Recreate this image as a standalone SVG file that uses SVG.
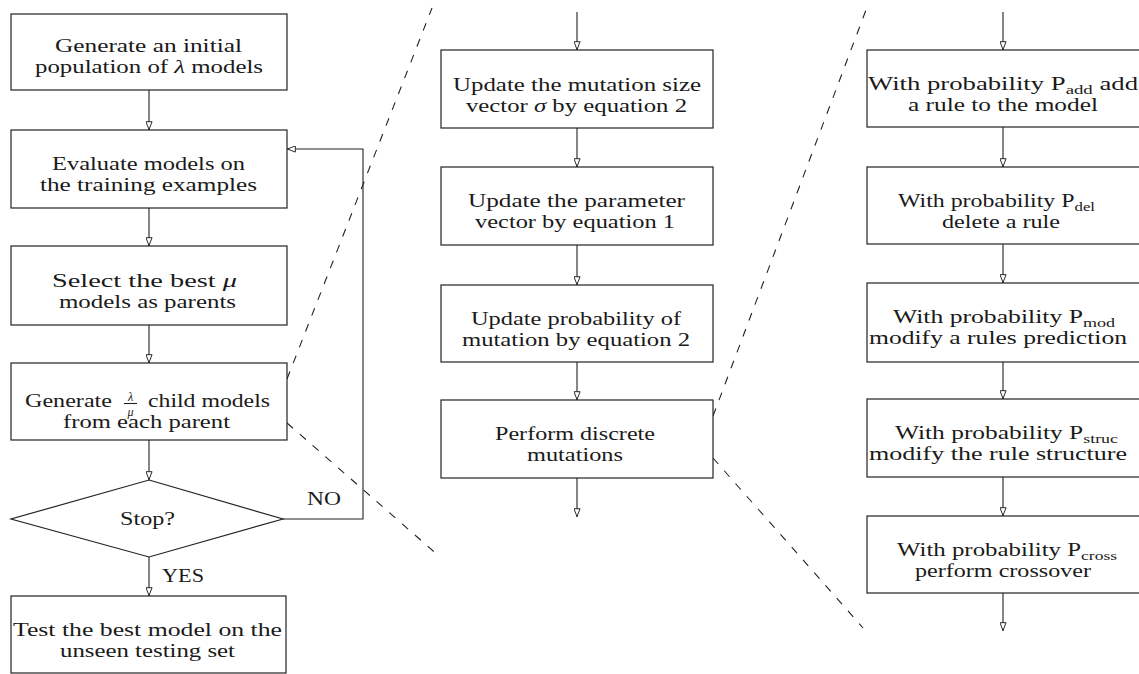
<svg xmlns="http://www.w3.org/2000/svg" width="1139" height="674" viewBox="0 0 1139 674">
<defs>
<style>
.box{fill:#fff;stroke:#222;stroke-width:1.2}
.ln{fill:none;stroke:#222;stroke-width:1.1}
.dash{fill:none;stroke:#222;stroke-width:1.1;stroke-dasharray:8 9}
.t{font-family:"Liberation Serif","Times New Roman",serif;font-size:18.5px;fill:#1a1a1a}
.m{font-style:italic}
.sub{font-size:13px}
.frac{font-family:"Liberation Serif","Times New Roman",serif;font-size:12px;font-style:italic;fill:#1a1a1a}
</style>
<marker id="ah" viewBox="0 0 10 8" refX="10" refY="4" markerWidth="9" markerHeight="7" markerUnits="userSpaceOnUse" orient="auto">
<path d="M0.5,0.5 L9.5,4 L0.5,7.5 Z" fill="#fff" stroke="#222" stroke-width="1.1"/>
</marker>
</defs>
<rect width="1139" height="674" fill="#fff"/>

<g id="connectors">
<line class="ln" x1="149" y1="90" x2="149" y2="130" marker-end="url(#ah)"/>
<line class="ln" x1="149" y1="208" x2="149" y2="246" marker-end="url(#ah)"/>
<line class="ln" x1="149" y1="325" x2="149" y2="363" marker-end="url(#ah)"/>
<line class="ln" x1="149" y1="440" x2="149" y2="480" marker-end="url(#ah)"/>
<line class="ln" x1="149" y1="557" x2="149" y2="596" marker-end="url(#ah)"/>
<polyline class="ln" points="283,519 363,519 363,149 287,149" marker-end="url(#ah)"/>
<line class="ln" x1="577" y1="12" x2="577" y2="50" marker-end="url(#ah)"/>
<line class="ln" x1="577" y1="128" x2="577" y2="167" marker-end="url(#ah)"/>
<line class="ln" x1="577" y1="245" x2="577" y2="285" marker-end="url(#ah)"/>
<line class="ln" x1="577" y1="362" x2="577" y2="400" marker-end="url(#ah)"/>
<line class="ln" x1="577" y1="478" x2="577" y2="517" marker-end="url(#ah)"/>
<line class="ln" x1="1003" y1="12" x2="1003" y2="50" marker-end="url(#ah)"/>
<line class="ln" x1="1003" y1="127" x2="1003" y2="167" marker-end="url(#ah)"/>
<line class="ln" x1="1003" y1="244" x2="1003" y2="283" marker-end="url(#ah)"/>
<line class="ln" x1="1003" y1="362" x2="1003" y2="399" marker-end="url(#ah)"/>
<line class="ln" x1="1003" y1="477" x2="1003" y2="516" marker-end="url(#ah)"/>
<line class="ln" x1="1003" y1="593" x2="1003" y2="631" marker-end="url(#ah)"/>
<line class="dash" x1="287" y1="379" x2="432" y2="8"/>
<line class="dash" x1="287" y1="423" x2="440" y2="557"/>
<line class="dash" x1="713" y1="416" x2="866" y2="10"/>
<line class="dash" x1="713" y1="458" x2="863" y2="628"/>
</g>

<g id="n-init">
<rect class="box" x="11" y="14" width="276" height="76"/>
<text class="t" x="55" y="52" textLength="187" lengthAdjust="spacingAndGlyphs">Generate an initial</text>
<text class="t" x="35" y="73" textLength="228" lengthAdjust="spacingAndGlyphs">population of <tspan class="m">λ</tspan> models</text>
</g>
<g id="n-eval">
<rect class="box" x="11" y="130" width="276" height="78"/>
<text class="t" x="52" y="170" textLength="193" lengthAdjust="spacingAndGlyphs">Evaluate models on</text>
<text class="t" x="40" y="191" textLength="217" lengthAdjust="spacingAndGlyphs">the training examples</text>
</g>
<g id="n-select">
<rect class="box" x="11" y="246" width="276" height="79"/>
<text class="t" x="52" y="287" textLength="185" lengthAdjust="spacingAndGlyphs">Select the best <tspan class="m">μ</tspan></text>
<text class="t" x="59" y="308" textLength="177" lengthAdjust="spacingAndGlyphs">models as parents</text>
</g>
<g id="n-generate">
<rect class="box" x="11" y="363" width="276" height="77"/>
<text class="t" x="25" y="407" textLength="87" lengthAdjust="spacingAndGlyphs">Generate</text>
<text class="frac" x="130.5" y="401" text-anchor="middle">λ</text>
<line class="ln" x1="124" y1="403.5" x2="137" y2="403.5" stroke-width="0.9"/>
<text class="frac" x="130.5" y="416" text-anchor="middle">μ</text>
<text class="t" x="148" y="407" textLength="122" lengthAdjust="spacingAndGlyphs">child models</text>
<text class="t" x="63" y="428" textLength="167" lengthAdjust="spacingAndGlyphs">from each parent</text>
</g>
<g id="n-stop">
<polygon class="box" points="149,480 283,519 149,557 11,519"/>
<text class="t" x="120" y="525" textLength="55" lengthAdjust="spacingAndGlyphs">Stop?</text>
</g>
<g id="labels">
<text class="t" x="307" y="505" textLength="34" lengthAdjust="spacingAndGlyphs">NO</text>
<text class="t" x="162" y="582" textLength="42" lengthAdjust="spacingAndGlyphs">YES</text>
</g>
<g id="n-test">
<rect class="box" x="11" y="596" width="275" height="77"/>
<text class="t" x="13" y="636" textLength="269" lengthAdjust="spacingAndGlyphs">Test the best model on the</text>
<text class="t" x="60" y="657" textLength="175" lengthAdjust="spacingAndGlyphs">unseen testing set</text>
</g>

<g id="n-sigma">
<rect class="box" x="441" y="50" width="272" height="78"/>
<text class="t" x="453" y="91" textLength="248" lengthAdjust="spacingAndGlyphs">Update the mutation size</text>
<text class="t" x="466" y="112" textLength="221" lengthAdjust="spacingAndGlyphs">vector <tspan class="m">σ</tspan> by equation 2</text>
</g>
<g id="n-param">
<rect class="box" x="441" y="167" width="272" height="78"/>
<text class="t" x="468" y="207" textLength="217" lengthAdjust="spacingAndGlyphs">Update the parameter</text>
<text class="t" x="475" y="228" textLength="200" lengthAdjust="spacingAndGlyphs">vector by equation 1</text>
</g>
<g id="n-prob">
<rect class="box" x="441" y="285" width="272" height="77"/>
<text class="t" x="471" y="325" textLength="210" lengthAdjust="spacingAndGlyphs">Update probability of</text>
<text class="t" x="462" y="346" textLength="228" lengthAdjust="spacingAndGlyphs">mutation by equation 2</text>
</g>
<g id="n-discrete">
<rect class="box" x="441" y="400" width="272" height="78"/>
<text class="t" x="495" y="440" textLength="160" lengthAdjust="spacingAndGlyphs">Perform discrete</text>
<text class="t" x="527" y="461" textLength="96" lengthAdjust="spacingAndGlyphs">mutations</text>
</g>

<g id="n-add">
<rect class="box" x="867" y="50" width="274" height="77"/>
<text class="t" x="868" y="90" textLength="270" lengthAdjust="spacingAndGlyphs">With probability P<tspan class="sub" dy="4">add</tspan><tspan dy="-4"> add</tspan></text>
<text class="t" x="908" y="111" textLength="190" lengthAdjust="spacingAndGlyphs">a rule to the model</text>
</g>
<g id="n-del">
<rect class="box" x="867" y="167" width="274" height="77"/>
<text class="t" x="898" y="207" textLength="197" lengthAdjust="spacingAndGlyphs">With probability P<tspan class="sub" dy="4">del</tspan></text>
<text class="t" x="942" y="228" textLength="118" lengthAdjust="spacingAndGlyphs">delete a rule</text>
</g>
<g id="n-mod">
<rect class="box" x="867" y="283" width="274" height="79"/>
<text class="t" x="893" y="323" textLength="222" lengthAdjust="spacingAndGlyphs">With probability P<tspan class="sub" dy="4">mod</tspan></text>
<text class="t" x="869" y="344" textLength="258" lengthAdjust="spacingAndGlyphs">modify a rules prediction</text>
</g>
<g id="n-struc">
<rect class="box" x="867" y="399" width="274" height="78"/>
<text class="t" x="895" y="439" textLength="223" lengthAdjust="spacingAndGlyphs">With probability P<tspan class="sub" dy="4">struc</tspan></text>
<text class="t" x="869" y="460" textLength="258" lengthAdjust="spacingAndGlyphs">modify the rule structure</text>
</g>
<g id="n-cross">
<rect class="box" x="867" y="516" width="274" height="77"/>
<text class="t" x="897" y="556" textLength="220" lengthAdjust="spacingAndGlyphs">With probability P<tspan class="sub" dy="4">cross</tspan></text>
<text class="t" x="915" y="577" textLength="176" lengthAdjust="spacingAndGlyphs">perform crossover</text>
</g>
</svg>
